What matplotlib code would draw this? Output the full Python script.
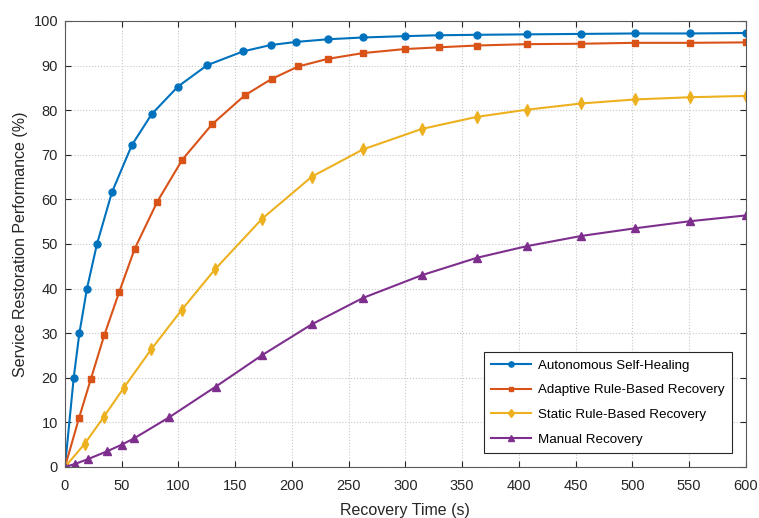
import matplotlib.pyplot as plt

plt.rcParams['font.family'] = ['Liberation Sans', 'DejaVu Sans']

# values
t_auto = [0, 7.7, 12.7, 19.4, 28.2, 41.4, 59, 76.4, 99.6, 125.4, 157.2, 181.2, 203.5,
          231.7, 262.6, 299.6, 329.5, 363, 407, 455, 502, 550.7, 600]
p_auto = [0, 20, 30, 40, 50, 61.6, 72.2, 79.1, 85.3, 90.1, 93.2, 94.6, 95.3,
          95.9, 96.3, 96.6, 96.8, 96.9, 97.0, 97.1, 97.2, 97.2, 97.3]

t_adapt = [0, 12.4, 22.9, 34.7, 47.9, 61.4, 81.4, 103.4, 129.5, 158.3, 182.1, 205.6,
           231.5, 262.6, 299.3, 330, 363, 406.8, 455, 502, 550.7, 600]
p_adapt = [0, 11, 19.8, 29.6, 39.3, 48.9, 59.5, 68.9, 76.8, 83.3, 87.0, 89.8,
           91.5, 92.8, 93.7, 94.1, 94.5, 94.8, 94.9, 95.1, 95.1, 95.2]

t_static = [0, 17.4, 34.1, 51.7, 76.1, 102.8, 132.5, 173.9, 217.6, 262.6, 314.5,
            363, 406.8, 455, 502, 550.7, 600]
p_static = [0, 5.2, 11.2, 17.7, 26.4, 35.2, 44.4, 55.7, 65.1, 71.2, 75.8,
            78.5, 80.1, 81.5, 82.4, 82.9, 83.2]

t_manual = [0, 9.1, 20.6, 37, 50, 60.8, 91.6, 132.8, 173.9, 217.6, 262.6, 314.5,
            363, 406.8, 455, 502, 550.7, 600]
p_manual = [0, 0.7, 1.8, 3.5, 5.0, 6.4, 11.1, 18.0, 25.1, 32.0, 37.9, 43.0,
            46.9, 49.5, 51.8, 53.5, 55.1, 56.4]

fig = plt.figure(figsize=(7.59, 5.18), dpi=100)
ax = fig.add_axes([0.0856, 0.0985, 0.897, 0.861])

ax.plot(t_auto, p_auto, '-o', color='#0072BD', lw=1.5, ms=5,
        label='Autonomous Self-Healing')
ax.plot(t_adapt, p_adapt, '-s', color='#D95319', lw=1.5, ms=4.8,
        label='Adaptive Rule-Based Recovery')
ax.plot(t_static, p_static, '-d', color='#EDB120', lw=1.5, ms=5.8,
        label='Static Rule-Based Recovery')
ax.plot(t_manual, p_manual, '-^', color='#7E2F8E', lw=1.5, ms=5.2,
        label='Manual Recovery')

ax.set_xlim(0, 600)
ax.set_ylim(0, 100)
ax.set_xticks(range(0, 601, 50))
ax.set_yticks(range(0, 101, 10))
ax.grid(True, ls=':', color='#c8c8c8', lw=0.8)
ax.tick_params(direction='in', top=True, right=True, labelsize=10.5,
               colors='#262626', length=4)
ax.tick_params(axis='x', pad=9)
ax.tick_params(axis='y', pad=5)
for s in ax.spines.values():
    s.set_color('#5a5a5a')
    s.set_linewidth(0.8)

ax.set_xlabel('Recovery Time (s)', fontsize=11.5, color='#262626', labelpad=7)
ax.set_ylabel('Service Restoration Performance (%)', fontsize=11.5, color='#262626')

leg = ax.legend(loc='lower right', fontsize=9.6, fancybox=False, framealpha=1,
                edgecolor='#262626', borderaxespad=1.05, handlelength=3.0,
                handletextpad=0.5, labelspacing=0.92, borderpad=0.55,
                markerscale=0.75)
leg.get_frame().set_linewidth(0.8)

fig.savefig('out.png', dpi=100)
